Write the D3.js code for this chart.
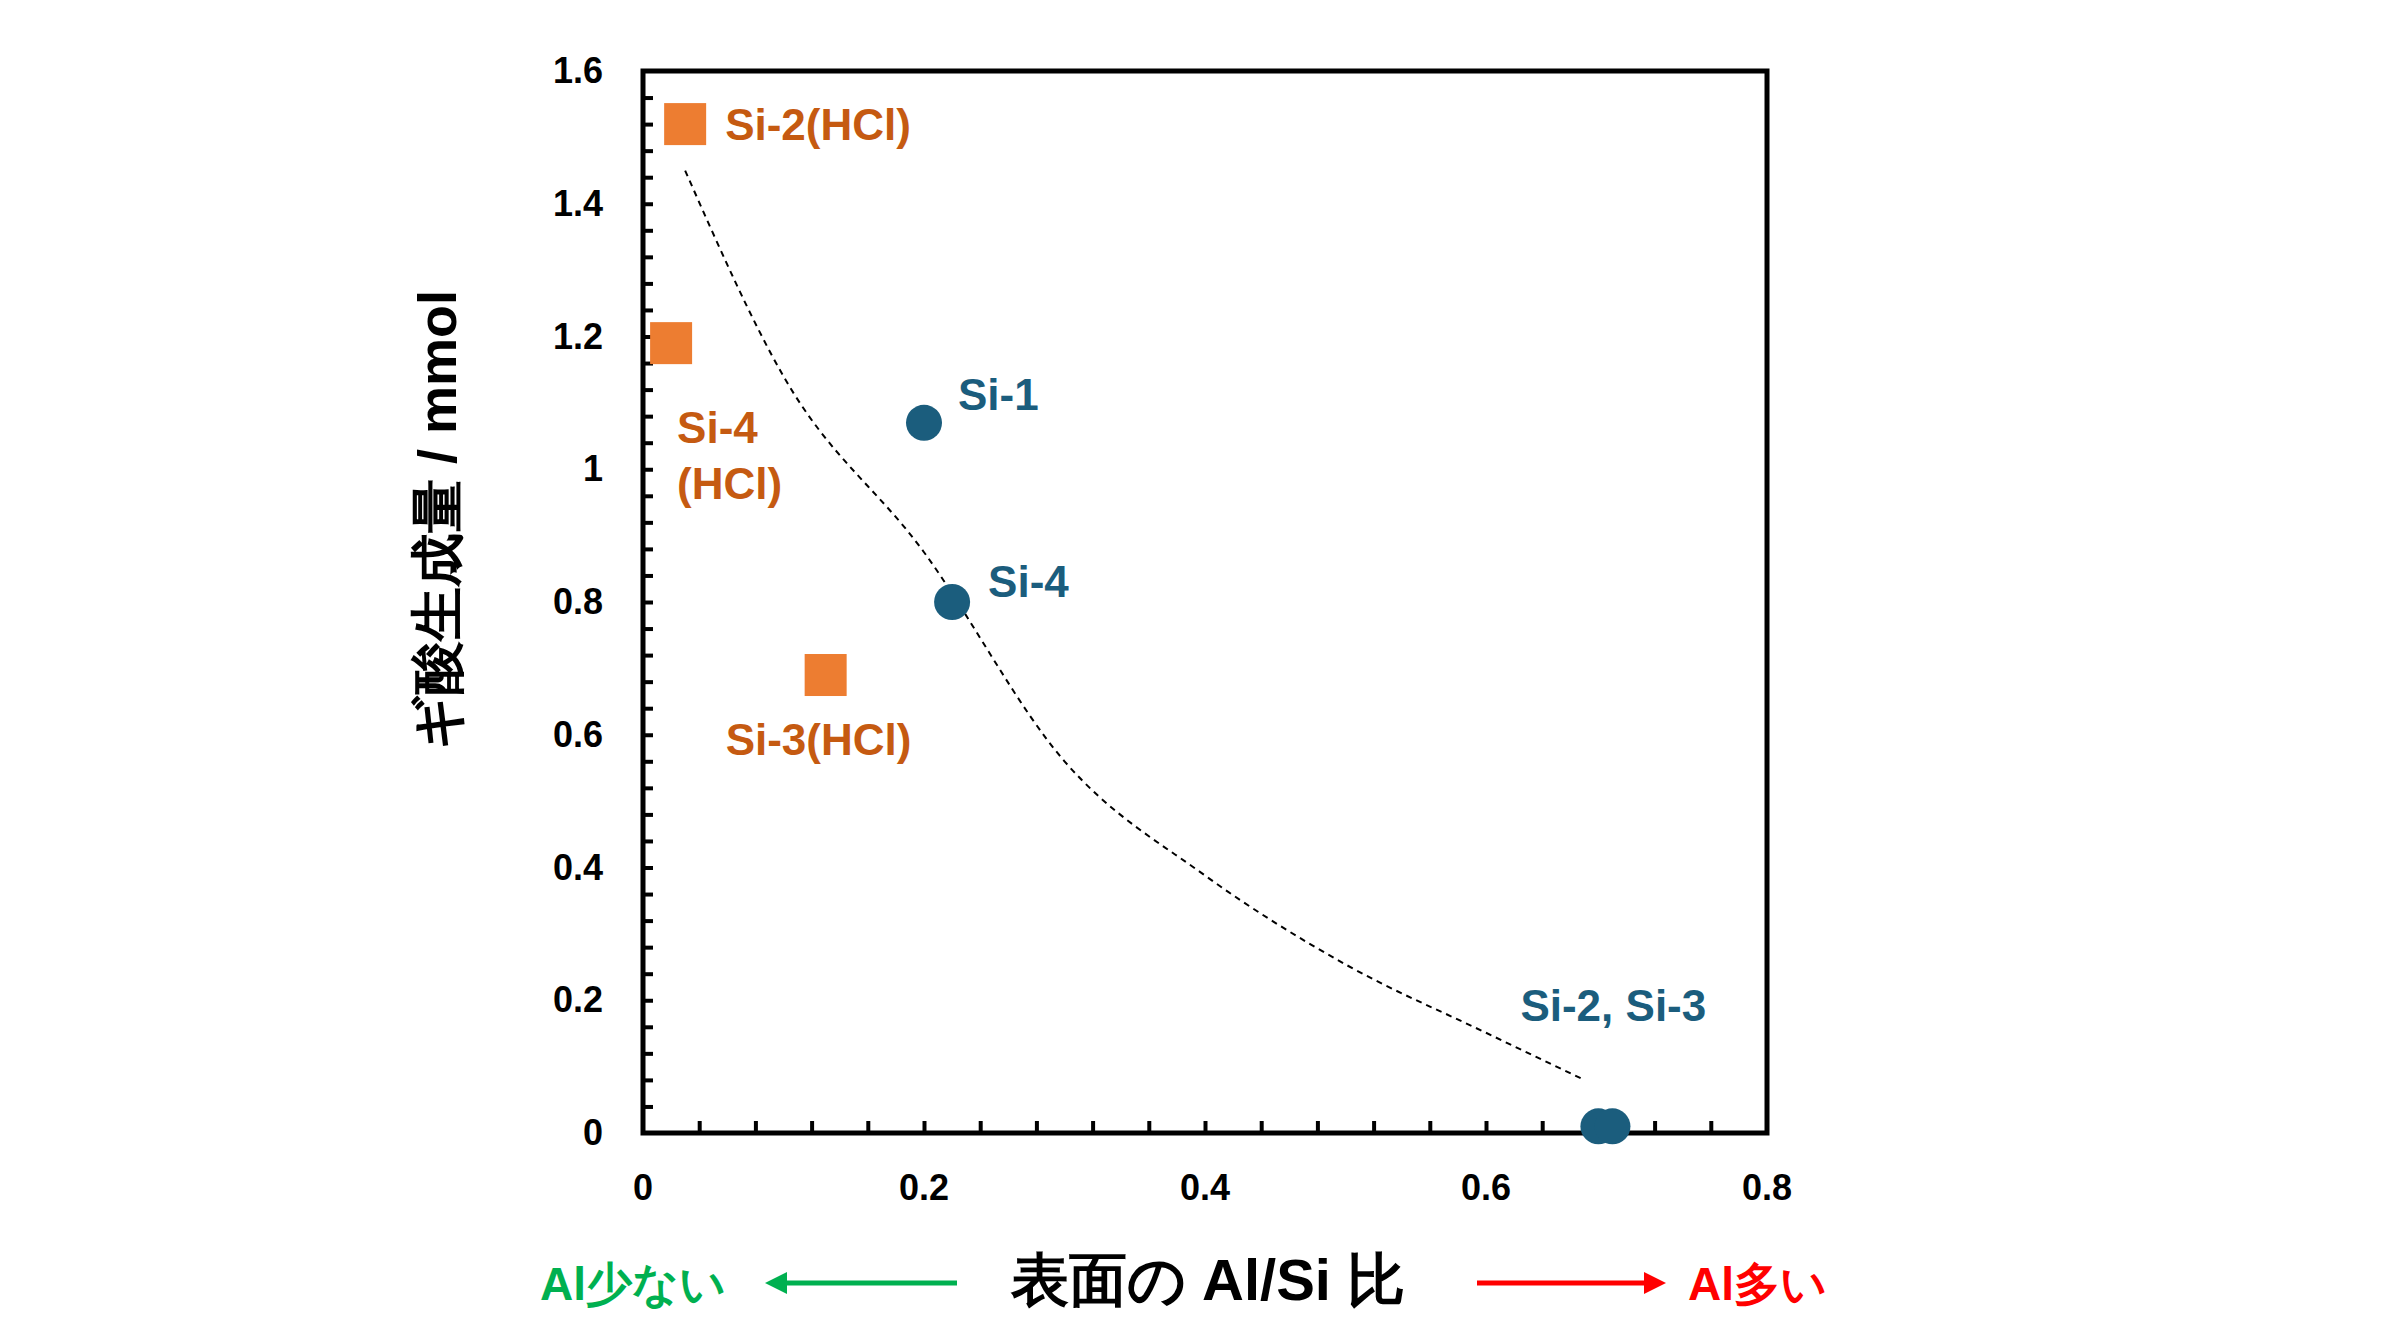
<!DOCTYPE html>
<html><head><meta charset="utf-8">
<script src="https://cdn.jsdelivr.net/npm/d3@7"></script>
<style>body{margin:0;background:#fff}text{font-family:"Liberation Sans",Arial,sans-serif;font-weight:bold}</style>
</head><body><svg id="c" width="2400" height="1331"></svg>
<script>
// data
var hclNames = ["Si-2(HCl)", "Si-4(HCl)", "Si-3(HCl)"];
var hclX = [0.03, 0.02, 0.13];
var hclY = [1.52, 1.19, 0.69];
var siNames = ["Si-1", "Si-4", "Si-2", "Si-3"];
var siX = [0.20, 0.22, 0.68, 0.69];
var siY = [1.07, 0.80, 0.01, 0.01];
// dashed trend curve, points read along it
var trendX = [0.03, 0.1, 0.2, 0.3, 0.4, 0.5, 0.6, 0.67];
var trendY = [1.45, 1.14, 0.875, 0.56, 0.388, 0.254, 0.151, 0.08];
var xTicks = [0, 0.2, 0.4, 0.6, 0.8];
var yTicks = [0, 0.2, 0.4, 0.6, 0.8, 1, 1.2, 1.4, 1.6];

var L = 643, R = 1767, T = 71, B = 1133;
var x = d3.scaleLinear().domain([0, 0.8]).range([L, R]);
var y = d3.scaleLinear().domain([0, 1.6]).range([B, T]);
var svg = d3.select("#c");
var orange = "#ED7D31", orangeTxt = "#C55A11", blue = "#1B5D7D";

// minor ticks (inside)
var minors = d3.range(0, 41).map(function(i){return i*0.02;});
svg.append("g").attr("transform", "translate(0," + B + ")")
  .call(d3.axisTop(x).tickValues(d3.range(1, 20).map(function(i){return i*0.04;})).tickSize(12).tickFormat(""))
  .call(function(g){g.select(".domain").remove(); g.selectAll("line").attr("stroke", "#000").attr("stroke-width", 4);});
svg.append("g").attr("transform", "translate(" + L + ",0)")
  .call(d3.axisRight(y).tickValues(d3.range(1, 40).map(function(i){return i*0.04;})).tickSize(10).tickFormat(""))
  .call(function(g){g.select(".domain").remove(); g.selectAll("line").attr("stroke", "#000").attr("stroke-width", 4);});

svg.append("rect").attr("x", L).attr("y", T).attr("width", R - L).attr("height", B - T)
  .attr("fill", "none").attr("stroke", "#000").attr("stroke-width", 5);

// tick labels
svg.selectAll(".xl").data(xTicks).enter().append("text")
  .attr("x", function(d){return x(d);}).attr("y", B + 67).attr("text-anchor", "middle")
  .attr("font-size", 36).text(function(d){return d;});
svg.selectAll(".yl").data(yTicks).enter().append("text")
  .attr("x", L - 40).attr("y", function(d){return y(d) + 12;}).attr("text-anchor", "end")
  .attr("font-size", 36).text(function(d){return d;});

// trend
var trend = trendX.map(function(v, i){return [x(v), y(trendY[i])];});
svg.append("path").attr("d", d3.line().curve(d3.curveMonotoneX)(trend))
  .attr("fill", "none").attr("stroke", "#000").attr("stroke-width", 2).attr("stroke-dasharray", "6,5");

// markers
var s = 42;
svg.selectAll(".sq").data(hclX).enter().append("rect")
  .attr("x", function(d){return x(d) - s/2;}).attr("y", function(d, i){return y(hclY[i]) - s/2;})
  .attr("width", s).attr("height", s).attr("fill", orange);
svg.selectAll(".ci").data(siX).enter().append("circle")
  .attr("cx", function(d){return x(d);}).attr("cy", function(d, i){return y(siY[i]);})
  .attr("r", 18).attr("fill", blue);

// point labels
function lab(t, px, py, c){
  svg.append("text").attr("x", px).attr("y", py).attr("fill", c).attr("font-size", 44).text(t);
}
lab(hclNames[0], x(hclX[0]) + 40, y(hclY[0]) + 16, orangeTxt);
lab("Si-4", x(hclX[1]) + 6, y(hclY[1]) + 100, orangeTxt);
lab("(HCl)", x(hclX[1]) + 6, y(hclY[1]) + 156, orangeTxt);
lab(hclNames[2], x(hclX[2]) - 100, y(hclY[2]) + 80, orangeTxt);
lab(siNames[0], x(siX[0]) + 34, y(siY[0]) - 13, blue);
lab(siNames[1], x(siX[1]) + 36, y(siY[1]) - 5, blue);
lab(siNames[2] + ", " + siNames[3], x(siX[2]) - 78, y(siY[2]) - 105, blue);

// axis titles
svg.append("text").attr("transform", "translate(456,520) rotate(-90)").attr("text-anchor", "middle")
  .attr("font-size", 54).attr("font-family", "Noto Sans CJK JP").text("ギ酸生成量 / mmol");
svg.append("text").attr("x", 1208).attr("y", 1300).attr("text-anchor", "middle")
  .attr("font-size", 58).attr("font-family", "Noto Sans CJK JP").text("表面の Al/Si 比");
svg.append("text").attr("x", 540).attr("y", 1300).attr("fill", "#00B050")
  .attr("font-size", 46).attr("font-family", "Noto Sans CJK JP").text("Al少ない");
svg.append("text").attr("x", 1688).attr("y", 1300).attr("fill", "#FF0000")
  .attr("font-size", 46).attr("font-family", "Noto Sans CJK JP").text("Al多い");
function arrow(x1, x2, c){
  var yy = 1283, dir = x2 > x1 ? 1 : -1;
  svg.append("line").attr("x1", x1).attr("x2", x2 - dir*14).attr("y1", yy).attr("y2", yy)
    .attr("stroke", c).attr("stroke-width", 5);
  svg.append("path").attr("d", "M" + x2 + "," + yy + "L" + (x2 - dir*22) + "," + (yy - 11) + "L" + (x2 - dir*22) + "," + (yy + 11) + "Z")
    .attr("fill", c);
}
arrow(957, 765, "#00B050");
arrow(1477, 1666, "#FF0000");
</script></body></html>
